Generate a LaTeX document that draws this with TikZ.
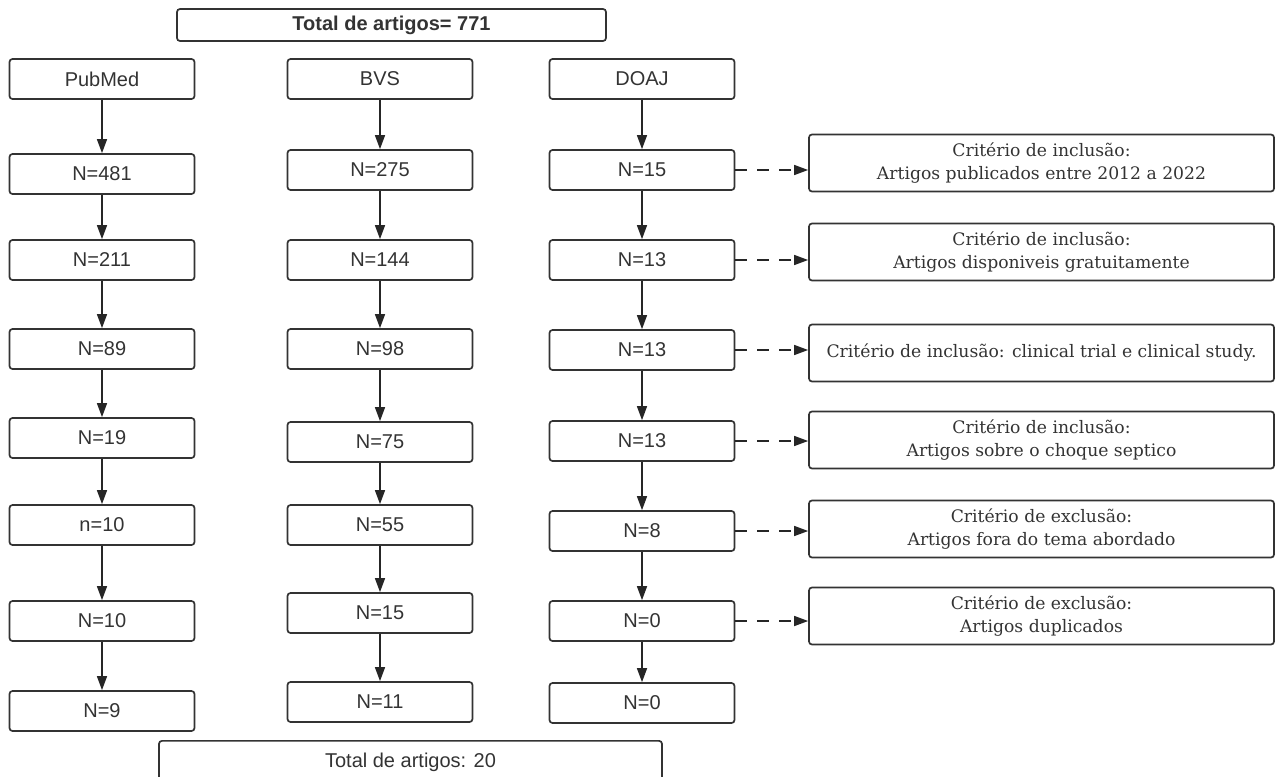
\documentclass[tikz,border=0pt]{standalone}
\usepackage{fontspec}
\setmainfont{Liberation Sans}
\newfontfamily\critfont{DejaVu Serif}
\usetikzlibrary{arrows.meta}

\tikzset{
  countbox/.style={draw=black!80, line width=1.7pt, rounded corners=3pt,
    minimum width=185pt, minimum height=40pt, inner sep=0pt,
    text=black!80, font=\fontsize{20}{24}\selectfont},
  critbox/.style={countbox, minimum width=465pt, minimum height=57pt,
    align=center, font=\critfont\fontsize{17.2}{23.5}\selectfont},
  flow/.style={draw=black!85, line width=1.5pt, -{Triangle[length=14pt,width=10pt]}},
  dashflow/.style={flow, dash pattern=on 12pt off 10pt},
}

\begin{document}
\begin{tikzpicture}[x=1pt,y=-1pt]
  \useasboundingbox (0,0) rectangle (1276,776);

  % Totals
  \node[countbox, minimum width=429pt, minimum height=32pt, font=\bfseries\fontsize{20}{24}\selectfont]
    (total) at (391.5,25) {Total de artigos= 771};
  \node[countbox, minimum width=503pt, anchor=north, text height=15pt, text depth=40pt, inner ysep=12pt]
    (final) at (410.5,740) {Total de artigos: 20};

  % PubMed
  \node[countbox] (pm0) at (102,79) {PubMed};
  \node[countbox] (pm1) at (102,174) {N=481};
  \node[countbox] (pm2) at (102,260) {N=211};
  \node[countbox] (pm3) at (102,349) {N=89};
  \node[countbox] (pm4) at (102,438) {N=19};
  \node[countbox] (pm5) at (102,525) {n=10};
  \node[countbox] (pm6) at (102,621) {N=10};
  \node[countbox] (pm7) at (102,711) {N=9};

  % BVS
  \node[countbox] (bvs0) at (380,79) {BVS};
  \node[countbox] (bvs1) at (380,170) {N=275};
  \node[countbox] (bvs2) at (380,260) {N=144};
  \node[countbox] (bvs3) at (380,349) {N=98};
  \node[countbox] (bvs4) at (380,442) {N=75};
  \node[countbox] (bvs5) at (380,525) {N=55};
  \node[countbox] (bvs6) at (380,613) {N=15};
  \node[countbox] (bvs7) at (380,702) {N=11};

  % DOAJ
  \node[countbox] (doaj0) at (642,79) {DOAJ};
  \node[countbox] (doaj1) at (642,170) {N=15};
  \node[countbox] (doaj2) at (642,260) {N=13};
  \node[countbox] (doaj3) at (642,350) {N=13};
  \node[countbox] (doaj4) at (642,441) {N=13};
  \node[countbox] (doaj5) at (642,531) {N=8};
  \node[countbox] (doaj6) at (642,621) {N=0};
  \node[countbox] (doaj7) at (642,703) {N=0};

  % Criteria
  \node[critbox] (crit1) at (1041.5,163) {Critério de inclusão:\\Artigos publicados entre 2012 a 2022};
  \node[critbox] (crit2) at (1041.5,252) {Critério de inclusão:\\Artigos disponiveis gratuitamente};
  \node[critbox] (crit3) at (1041.5,353) {Critério de inclusão: clinical trial e clinical study.};
  \node[critbox] (crit4) at (1041.5,440) {Critério de inclusão:\\Artigos sobre o choque septico};
  \node[critbox] (crit5) at (1041.5,529) {Critério de exclusão:\\Artigos fora do tema abordado};
  \node[critbox] (crit6) at (1041.5,616) {Critério de exclusão:\\Artigos duplicados};

  % Arrows
  \draw[flow] (pm0) -- (pm1); \draw[flow] (pm1) -- (pm2); \draw[flow] (pm2) -- (pm3);
  \draw[flow] (pm3) -- (pm4); \draw[flow] (pm4) -- (pm5); \draw[flow] (pm5) -- (pm6);
  \draw[flow] (pm6) -- (pm7);
  \draw[flow] (bvs0) -- (bvs1); \draw[flow] (bvs1) -- (bvs2); \draw[flow] (bvs2) -- (bvs3);
  \draw[flow] (bvs3) -- (bvs4); \draw[flow] (bvs4) -- (bvs5); \draw[flow] (bvs5) -- (bvs6);
  \draw[flow] (bvs6) -- (bvs7);
  \draw[flow] (doaj0) -- (doaj1); \draw[flow] (doaj1) -- (doaj2); \draw[flow] (doaj2) -- (doaj3);
  \draw[flow] (doaj3) -- (doaj4); \draw[flow] (doaj4) -- (doaj5); \draw[flow] (doaj5) -- (doaj6);
  \draw[flow] (doaj6) -- (doaj7);

  % Dashed arrows
  \draw[dashflow] (doaj1.east) -- (doaj1.east -| crit1.west);
  \draw[dashflow] (doaj2.east) -- (doaj2.east -| crit2.west);
  \draw[dashflow] (doaj3.east) -- (doaj3.east -| crit3.west);
  \draw[dashflow] (doaj4.east) -- (doaj4.east -| crit4.west);
  \draw[dashflow] (doaj5.east) -- (doaj5.east -| crit5.west);
  \draw[dashflow] (doaj6.east) -- (doaj6.east -| crit6.west);
\end{tikzpicture}
\end{document}
